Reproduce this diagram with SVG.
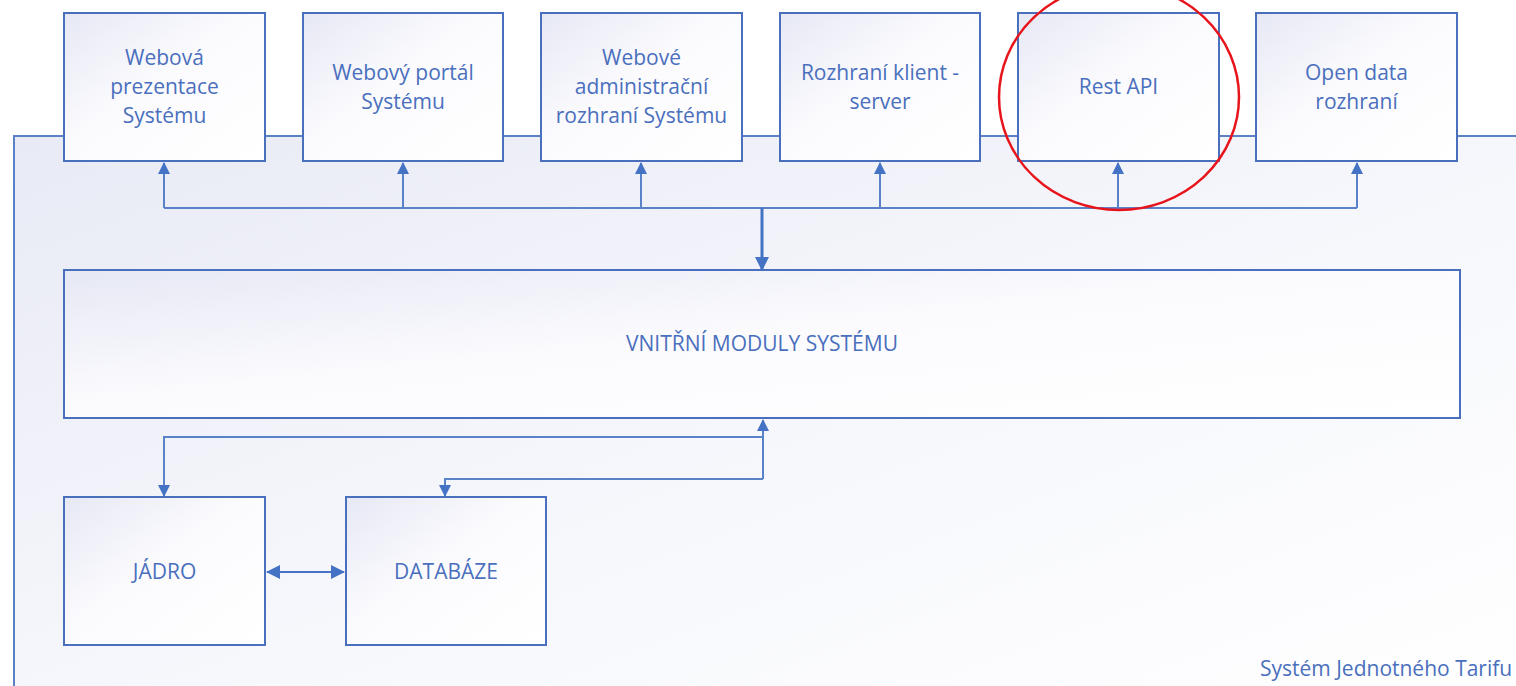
<svg xmlns="http://www.w3.org/2000/svg" width="1516" height="686" viewBox="0 0 1516 686">
<defs>
<linearGradient id="g" x1="0" y1="0" x2="1" y2="1">
<stop offset="0" stop-color="#e6e8f4"/>
<stop offset="0.45" stop-color="#fbfbfe"/>
<stop offset="1" stop-color="#ffffff"/>
</linearGradient>
<linearGradient id="bg" x1="0" y1="0" x2="1" y2="1">
<stop offset="0" stop-color="#e8eaf5"/>
<stop offset="0.5" stop-color="#f6f7fc"/>
<stop offset="1" stop-color="#ffffff"/>
</linearGradient>
<marker id="ah" markerWidth="12" markerHeight="12" refX="11" refY="6" orient="auto" markerUnits="userSpaceOnUse" viewBox="0 0 12 12">
<path d="M0,0 L12,6 L0,12 z" fill="#4472c4"/>
</marker>
<marker id="ahs" markerWidth="14" markerHeight="14" refX="13" refY="7" orient="auto-start-reverse" markerUnits="userSpaceOnUse" viewBox="0 0 14 14">
<path d="M0,0 L14,7 L0,14 z" fill="#4472c4"/>
</marker>
</defs>
<style>
.box{fill:url(#g);stroke:#4a70bd;stroke-width:2}
.t{font-family:"Open Sans","Liberation Sans",Arial,sans-serif;font-size:21px;fill:#4a6fbd;text-anchor:middle}
.c{fill:none;stroke:#5a82c9;stroke-width:2}
</style>
<rect x="0" y="0" width="1516" height="686" fill="#ffffff"/>
<g id="container">
<rect x="14" y="136" width="1520" height="570" fill="url(#bg)" stroke="#5a80c6" stroke-width="2"/>
<text x="1260" y="676" style="font-family:'Open Sans','Liberation Sans',Arial,sans-serif;font-size:21px;fill:#4a6fbd">Systém Jednotného Tarifu</text>
</g>
<g id="connectors">
<path class="c" d="M164,208 H1357"/>
<path class="c" d="M164,208 V163" marker-end="url(#ah)"/>
<path class="c" d="M403,208 V163" marker-end="url(#ah)"/>
<path class="c" d="M641,208 V163" marker-end="url(#ah)"/>
<path class="c" d="M880,208 V163" marker-end="url(#ah)"/>
<path class="c" d="M1118,208 V163" marker-end="url(#ah)"/>
<path class="c" d="M1357,208 V163" marker-end="url(#ah)"/>
<path d="M762,208 V270" fill="none" stroke="#4472c4" stroke-width="3" marker-end="url(#ahs)"/>
<path class="c" d="M763,479 V420" marker-end="url(#ah)"/>
<path class="c" d="M763,437 H164 V496" marker-end="url(#ah)"/>
<path class="c" d="M763,479 H445 V496" marker-end="url(#ah)"/>
<path d="M267,572 H344" fill="none" stroke="#4472c4" stroke-width="2" marker-start="url(#ahs)" marker-end="url(#ahs)"/>
</g>
<g id="n1"><rect class="box" x="64" y="13" width="201" height="148"/><text class="t" x="164.5" y="65">Webová</text><text class="t" x="164.5" y="94">prezentace</text><text class="t" x="164.5" y="123">Systému</text></g>
<g id="n2"><rect class="box" x="303" y="13" width="200" height="148"/><text class="t" x="403" y="80">Webový portál</text><text class="t" x="403" y="109">Systému</text></g>
<g id="n3"><rect class="box" x="541" y="13" width="201" height="148"/><text class="t" x="641.5" y="65">Webové</text><text class="t" x="641.5" y="94">administrační</text><text class="t" x="641.5" y="123">rozhraní Systému</text></g>
<g id="n4"><rect class="box" x="780" y="13" width="200" height="148"/><text class="t" x="880" y="80">Rozhraní klient -</text><text class="t" x="880" y="109">server</text></g>
<g id="n5"><rect class="box" x="1018" y="13" width="201" height="148"/><text class="t" x="1118.5" y="94">Rest API</text></g>
<g id="n6"><rect class="box" x="1256" y="13" width="201" height="148"/><text class="t" x="1356.5" y="80">Open data</text><text class="t" x="1356.5" y="109">rozhraní</text></g>
<g id="n7"><rect class="box" x="64" y="270" width="1396" height="148"/><text class="t" x="762" y="351">VNITŘNÍ MODULY SYSTÉMU</text></g>
<g id="n8"><rect class="box" x="64" y="497" width="201" height="148"/><text class="t" x="164.5" y="579">JÁDRO</text></g>
<g id="n9"><rect class="box" x="346" y="497" width="200" height="148"/><text class="t" x="446" y="579">DATABÁZE</text></g>
<g id="highlight"><ellipse cx="1119" cy="97" rx="120" ry="113" fill="none" stroke="#e8141b" stroke-width="2.5"/></g>
</svg>
